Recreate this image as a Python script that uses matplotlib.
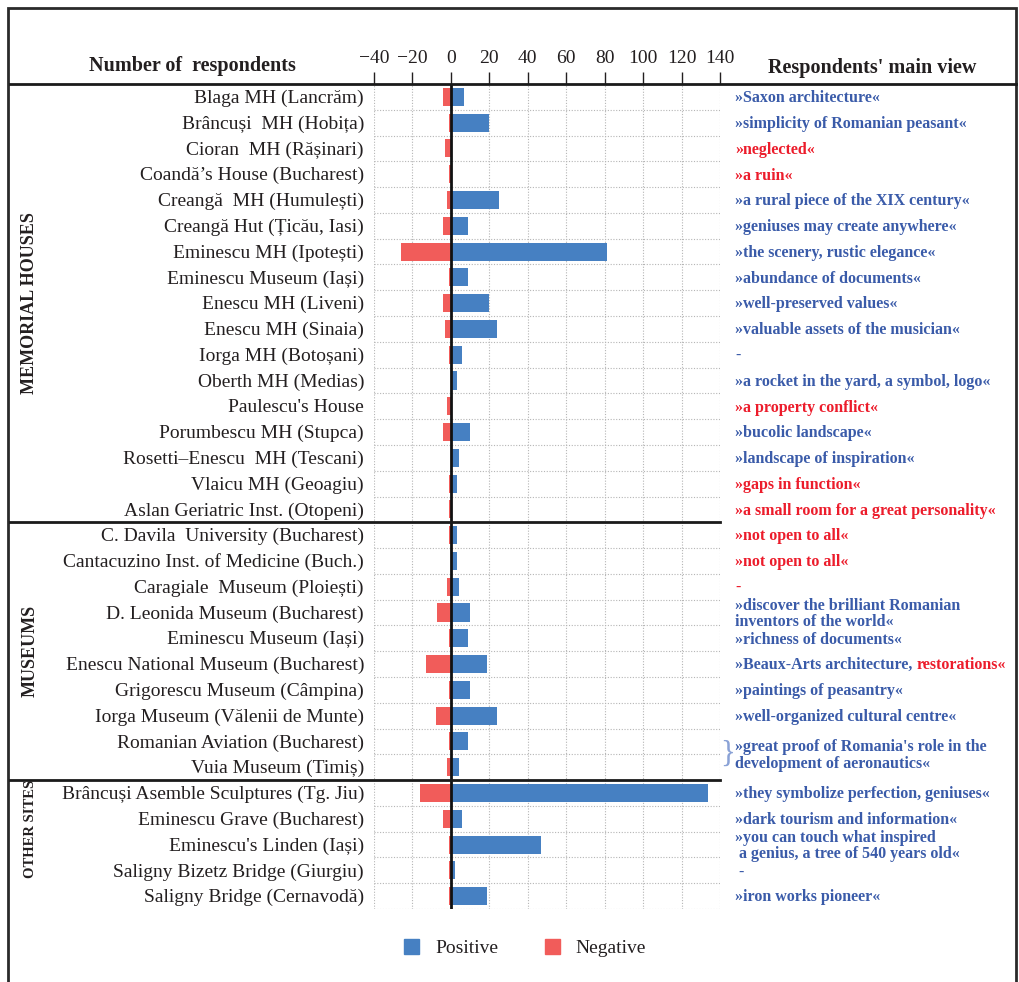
import matplotlib
matplotlib.use("Agg")
import matplotlib.pyplot as plt
from matplotlib.patches import Patch, Rectangle
from matplotlib.lines import Line2D
from matplotlib.transforms import blended_transform_factory

plt.rcParams['font.family'] = ['Liberation Serif', 'DejaVu Serif']

sites = [
    "Blaga MH (Lancrăm)", "Brâncuși  MH (Hobița)", "Cioran  MH (Rășinari)",
    "Coandă’s House (Bucharest)", "Creangă  MH (Humulești)", "Creangă Hut (Țicău, Iasi)",
    "Eminescu MH (Ipotești)", "Eminescu Museum (Iași)", "Enescu MH (Liveni)",
    "Enescu MH (Sinaia)", "Iorga MH (Botoșani)", "Oberth MH (Medias)",
    "Paulescu's House", "Porumbescu MH (Stupca)", "Rosetti–Enescu  MH (Tescani)",
    "Vlaicu MH (Geoagiu)", "Aslan Geriatric Inst. (Otopeni)",
    "C. Davila  University (Bucharest)", "Cantacuzino Inst. of Medicine (Buch.)",
    "Caragiale  Museum (Ploiești)", "D. Leonida Museum (Bucharest)",
    "Eminescu Museum (Iași)", "Enescu National Museum (Bucharest)",
    "Grigorescu Museum (Câmpina)", "Iorga Museum (Vălenii de Munte)",
    "Romanian Aviation (Bucharest)", "Vuia Museum (Timiș)",
    "Brâncuși Asemble Sculptures (Tg. Jiu)", "Eminescu Grave (Bucharest)",
    "Eminescu's Linden (Iași)", "Saligny Bizetz Bridge (Giurgiu)",
    "Saligny Bridge (Cernavodă)",
]
positive = [7, 20, 0, 0, 25, 9, 81, 9, 20, 24, 6, 3, 0, 10, 4, 3, 0,
            3, 3, 4, 10, 9, 19, 10, 24, 9, 4,
            134, 6, 47, 2, 19]
negative = [-4, -1, -3, -1, -2, -4, -26, -1, -4, -3, -1, 0, -2, -4, 0, -1, -1,
            -1, 0, -2, -7, -1, -13, -1, -8, -1, -2,
            -16, -4, -1, -1, -1]
groups = ["MEMORIAL HOUSES", "MUSEUMS", "OTHER SITES"]
group_pos = [8.0, 21.5, 28.4]
group_size = [13, 13, 10.5]
separators = [16.5, 26.5]
xticks = [-40, -20, 0, 20, 40, 60, 80, 100, 120, 140]

# main views: (row, text, colour key)
views = [
    (0, "»Saxon architecture«", "b"), (1, "»simplicity of Romanian peasant«", "b"),
    (2, "»neglected«", "r"), (3, "»a ruin«", "r"),
    (4, "»a rural piece of the XIX century«", "b"), (5, "»geniuses may create anywhere«", "b"),
    (6, "»the scenery, rustic elegance«", "b"), (7, "»abundance of documents«", "b"),
    (8, "»well-preserved values«", "b"), (9, "»valuable assets of the musician«", "b"),
    (10, "-", "b"), (11, "»a rocket in the yard, a symbol, logo«", "b"),
    (12, "»a property conflict«", "r"), (13, "»bucolic landscape«", "b"),
    (14, "»landscape of inspiration«", "b"), (15, "»gaps in function«", "r"),
    (16, "»a small room for a great personality«", "r"), (17, "»not open to all«", "r"),
    (18, "»not open to all«", "r"), (19, "-", "r"),
    (20, "»discover the brilliant Romanian\ninventors of the world«", "b"),
    (21, "»richness of documents«", "b"),
    (23, "»paintings of peasantry«", "b"), (24, "»well-organized cultural centre«", "b"),
    (25.5, "»great proof of Romania's role in the\ndevelopment of aeronautics«", "b"),
    (27, "»they symbolize perfection, geniuses«", "b"),
    (28, "»dark tourism and information«", "b"),
    (29, "»you can touch what inspired\n a genius, a tree of 540 years old«", "b"),
    (30, " -", "b"), (31, "»iron works pioneer«", "b"),
]
mixed_row = 22
mixed_parts = [("»Beaux-Arts architecture, ", "b"), ("restorations«", "r")]

BLUE = "#4680c2"
RED = "#f15c5a"
TBLUE = "#3a5ba9"
TRED = "#ec1c2b"
TXT = "#231f20"
tcol = {"b": TBLUE, "r": TRED}

W, H = 1019, 982
fig = plt.figure(figsize=(W / 100, H / 100), dpi=100)
ax = fig.add_axes([374 / W, 1 - 909 / H, 346 / W, (909 - 84) / H])

n = len(sites)
rows = list(range(n))
ax.barh(rows, positive, height=0.7, color=BLUE, zorder=2)
ax.barh(rows, negative, height=0.7, color=RED, zorder=2)
ax.set_xlim(-40, 140)
ax.set_ylim(n - 0.5, -0.5)

for t in xticks:
    ax.axvline(t, color="#b5b5b5", lw=0.8, ls=(0, (1, 1.5)), zorder=1)
for i in range(n):
    b = i + 0.5
    if b in separators:
        continue
    ax.axhline(b, color="#b5b5b5", lw=0.8, ls=(0, (1, 1.5)), zorder=1)
ax.axvline(0, color="#111111", lw=2, zorder=3)

ax.xaxis.tick_top()
ax.set_xticks(xticks)
ax.set_xticklabels([str(t).replace("-", "\u2212") for t in xticks], fontsize=14, color=TXT)
ax.tick_params(axis="x", direction="out", length=9, width=1, color=TXT, pad=3)
ax.set_yticks([])
for s in ax.spines.values():
    s.set_visible(False)

tr = blended_transform_factory(fig.transFigure, ax.transData)

for i, name in enumerate(sites):
    ax.text(364 / W, i + 0.06, name, transform=tr, ha="right", va="center",
            fontsize=14, color=TXT)

for g, yp, fs in zip(groups, group_pos, group_size):
    ax.text(30 / W, yp, g, transform=tr, rotation=90, ha="center", va="center",
            fontsize=fs, fontweight="bold", color=TXT)

for r, txt, c in views:
    ax.text(735 / W, r + 0.05, txt, transform=tr, ha="left", va="center",
            fontsize=11.5, fontweight="bold", color=tcol[c], linespacing=1.05)

t1 = ax.text(735 / W, mixed_row + 0.05, mixed_parts[0][0], transform=tr, ha="left",
             va="center", fontsize=11.5, fontweight="bold", color=tcol[mixed_parts[0][1]])
ax.annotate(mixed_parts[1][0], xy=(1, 0), xycoords=t1, ha="left", va="bottom",
            fontsize=11.5, fontweight="bold", color=tcol[mixed_parts[1][1]])

ax.text(728 / W, 25.5, "}", transform=tr, ha="center", va="center", fontsize=22,
        color="#8aa2d6", fontweight="light")

# separator lines and frame
for s in separators:
    yy = ax.transData.transform((0, s))[1] / (H)
    fig.add_artist(Line2D([10 / W, 720 / W], [yy, yy], color="#1a1a1a", lw=2))
fig.add_artist(Line2D([10 / W, 1016 / W], [1 - 84 / H, 1 - 84 / H], color="#1a1a1a", lw=2))
fig.add_artist(Rectangle((8 / W, -0.05), 1008 / W, 1.05 - 8 / H, fill=False,
                         edgecolor="#2a2a2a", lw=2))

fig.text(192 / W, 1 - 66 / H, "Number of  respondents", ha="center", va="center",
         fontsize=14.5, fontweight="bold", color=TXT)
fig.text(872 / W, 1 - 68 / H, "Respondents' main view", ha="center", va="center",
         fontsize=14.5, fontweight="bold", color=TXT)

handles = [Patch(color=BLUE, label="Positive"), Patch(color=RED, label="Negative")]
fig.legend(handles=handles, loc="center", bbox_to_anchor=(525 / W, 1 - 948 / H),
           ncol=2, frameon=False, fontsize=14, handlelength=0.8, handleheight=0.8,
           handletextpad=0.8, columnspacing=2.4, labelcolor=TXT)

fig.savefig("out.png", dpi=100)
